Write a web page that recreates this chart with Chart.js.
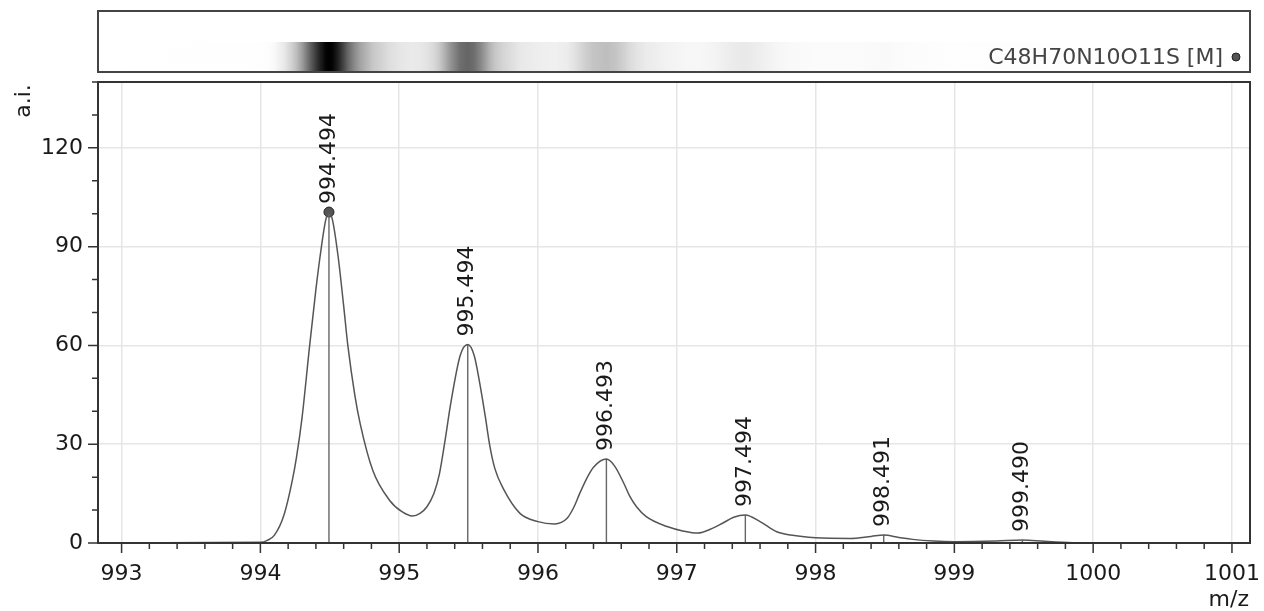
<!DOCTYPE html>
<html>
<head>
<meta charset="utf-8">
<script src="https://cdn.jsdelivr.net/npm/chart.js@4.4.1/dist/chart.umd.min.js"></script>
<style>
  html, body { margin: 0; padding: 0; background: #fff; }
  #wrap { width: 1264px; height: 611px; }
</style>
</head>
<body>
<div id="wrap"><canvas id="spectrum" width="1264" height="611"></canvas></div>
<script>
// profile trace (m/z, a.i.)
const profileMz = [
  992.83, 994.00, 994.05, 994.10, 994.17, 994.23, 994.26, 994.30, 994.355, 994.40,
  994.43, 994.47, 994.494, 994.52, 994.56, 994.60, 994.63, 994.68, 994.72, 994.81,
  994.93, 995.02, 995.095, 995.15, 995.20, 995.25, 995.29, 995.33, 995.37, 995.44,
  995.494, 995.54, 995.58, 995.62, 995.653, 995.69, 995.75, 995.87, 996.00, 996.12,
  996.21, 996.26, 996.30, 996.35, 996.40, 996.493, 996.55, 996.62, 996.66, 996.71,
  996.78, 996.93, 997.05, 997.15, 997.26, 997.33, 997.41, 997.494, 997.60, 997.72,
  997.82, 998.00, 998.25, 998.40, 998.491, 998.60, 998.70, 998.85, 999.00, 999.30,
  999.49, 999.65, 999.85, 1000.0, 1001.13
];
const profileInt = [
  0, 0.2, 0.8, 2.3, 8.5, 19, 26, 38, 60, 77,
  87, 98, 100.5, 98, 87, 72, 60, 45, 36, 22,
  13, 9.5, 8.2, 9, 11, 15, 21, 31, 42, 57,
  60.3, 57, 48.6, 38.5, 29.5, 22.5, 16.5, 9, 6.5, 5.8,
  7.5, 11, 15, 19.5, 23, 25.5, 23.5, 18, 14.3, 11,
  8, 5, 3.6, 3, 4.5, 6, 7.8, 8.5, 6.5, 3.4,
  2.4, 1.6, 1.4, 2, 2.4, 1.7, 1.1, 0.6, 0.4, 0.6,
  0.9, 0.5, 0.1, 0, 0
];

// centroid peaks
const peakMz = [994.494, 995.494, 996.493, 997.494, 998.491, 999.490];
const peakInt = [100.5, 60.3, 25.5, 8.5, 2.4, 0.9];
const peakLabels = ["994.494", "995.494", "996.493", "997.494", "998.491", "999.490"];

// axes
const xMajor = [993, 994, 995, 996, 997, 998, 999, 1000, 1001];
const yMajor = [0, 30, 60, 90, 120];
const xRange = [992.83, 1001.13];
const yRange = [0, 140];
const formula = "C48H70N10O11S [M]";

const FONT = "22px 'DejaVu Sans'";
const isMajor = (v, list) => list.some(m => Math.abs(m - v) < 1e-6);

// minor tick positions: 5 per unit on x, every 10 on y
const xTickVals = [];
for (let i = 0; i <= 40; i++) xTickVals.push(Math.round((993 + i * 0.2) * 10) / 10);
const yTickVals = [];
for (let v = yRange[0]; v <= yRange[1]; v += 10) yTickVals.push(v);

const spectrumDecor = {
  id: "spectrumDecor",
  afterDatasetsDraw(chart) {
    const { ctx, chartArea: a, scales: { x, y } } = chart;
    ctx.save();

    // tick marks (major long, minor short)
    ctx.strokeStyle = "#333";
    ctx.lineWidth = 1.5;
    ctx.beginPath();
    xTickVals.forEach(v => {
      const px = x.getPixelForValue(v);
      const len = isMajor(v, xMajor) ? 10 : 6;
      ctx.moveTo(px, a.bottom);
      ctx.lineTo(px, a.bottom + len);
    });
    yTickVals.forEach(v => {
      const py = y.getPixelForValue(v);
      const len = isMajor(v, yMajor) ? 10 : 6;
      ctx.moveTo(a.left, py);
      ctx.lineTo(a.left - len, py);
    });
    ctx.stroke();

    // plot frame
    ctx.lineWidth = 2;
    ctx.strokeRect(a.left, a.top, a.right - a.left, a.bottom - a.top);

    // peak labels
    ctx.font = FONT;
    ctx.fillStyle = "#1a1a1a";
    peakMz.forEach((m, i) => {
      const px = x.getPixelForValue(m);
      const py = y.getPixelForValue(peakInt[i]);
      ctx.save();
      ctx.translate(px, py - 8);
      ctx.rotate(-Math.PI / 2);
      ctx.textAlign = "left";
      ctx.textBaseline = "middle";
      ctx.fillText(peakLabels[i], 0, 0);
      ctx.restore();
    });

    // top strip: intensity as grey level
    const boxTop = 11, boxBottom = 72, bandTop = 42;
    const w = a.right - a.left;
    const grad = ctx.createLinearGradient(a.left, 0, a.right, 0);
    profileMz.forEach((m, i) => {
      const f = (x.getPixelForValue(m) - a.left) / w;
      if (f < 0 || f > 1) return;
      const g = Math.round(255 * (1 - Math.min(profileInt[i], 100) / 100));
      grad.addColorStop(f, `rgb(${g},${g},${g})`);
    });
    ctx.fillStyle = grad;
    ctx.fillRect(a.left, bandTop, w, boxBottom - bandTop);
    ctx.strokeStyle = "#444";
    ctx.lineWidth = 2;
    ctx.strokeRect(a.left, boxTop, w, boxBottom - boxTop);

    // formula + marker dot
    ctx.font = FONT;
    ctx.fillStyle = "#444";
    ctx.textAlign = "right";
    ctx.textBaseline = "alphabetic";
    ctx.fillText(formula, a.right - 27, 64);
    ctx.beginPath();
    ctx.arc(a.right - 14, 57, 4, 0, Math.PI * 2);
    ctx.fillStyle = "#555";
    ctx.fill();
    ctx.strokeStyle = "#222";
    ctx.lineWidth = 1;
    ctx.stroke();

    // axis titles
    ctx.fillStyle = "#1a1a1a";
    ctx.font = FONT;
    ctx.save();
    ctx.translate(30, 101);
    ctx.rotate(-Math.PI / 2);
    ctx.textAlign = "center";
    ctx.textBaseline = "alphabetic";
    ctx.fillText("a.i.", 0, 0);
    ctx.restore();
    ctx.textAlign = "right";
    ctx.fillText("m/z", a.right - 1, 606);

    ctx.restore();
  }
};

const profileData = profileMz.map((m, i) => ({ x: m, y: profileInt[i] }));

const stickSets = peakMz.map((m, i) => ({
  data: [{ x: m, y: 0 }, { x: m, y: peakInt[i] }],
  showLine: true,
  borderColor: "#666",
  borderWidth: 1.4,
  pointRadius: 0,
}));

const config = {
  type: "scatter",
  data: {
    datasets: [
      {
        data: profileData,
        showLine: true,
        borderColor: "#555",
        borderWidth: 1.5,
        pointRadius: 0,
        cubicInterpolationMode: "monotone",
      },
      ...stickSets,
      {
        data: [{ x: peakMz[0], y: peakInt[0] }],
        pointRadius: 5,
        backgroundColor: "#555",
        borderColor: "#222",
        borderWidth: 1,
      },
    ],
  },
  options: {
    responsive: false,
    animation: false,
    layout: { padding: { top: 82, right: 14, left: 0, bottom: 0 } },
    plugins: {
      legend: { display: false },
      tooltip: { enabled: false },
    },
    scales: {
      x: {
        type: "linear",
        min: xRange[0],
        max: xRange[1],
        afterBuildTicks: axis => { axis.ticks = xTickVals.map(v => ({ value: v })); },
        afterFit: axis => {
          axis.height = 68;
          axis.paddingLeft = 0;
          axis.paddingRight = 0;
        },
        border: { display: false },
        grid: {
          drawTicks: false,
          lineWidth: 1.5,
          color: c => (isMajor(c.tick.value, xMajor) ? "#e6e6e6" : "rgba(0,0,0,0)"),
        },
        ticks: {
          autoSkip: false,
          maxRotation: 0,
          padding: 18,
          color: "#1a1a1a",
          font: { family: "DejaVu Sans", size: 22 },
          callback: v => (isMajor(v, xMajor) ? String(Math.round(v)) : ""),
        },
      },
      y: {
        min: yRange[0],
        max: yRange[1],
        afterBuildTicks: axis => { axis.ticks = yTickVals.map(v => ({ value: v })); },
        afterFit: axis => {
          axis.width = 98;
          axis.paddingTop = 0;
          axis.paddingBottom = 0;
        },
        border: { display: false },
        grid: {
          drawTicks: false,
          lineWidth: 1.5,
          color: c => (isMajor(c.tick.value, yMajor) ? "#e6e6e6" : "rgba(0,0,0,0)"),
        },
        ticks: {
          autoSkip: false,
          padding: 15,
          color: "#1a1a1a",
          font: { family: "DejaVu Sans", size: 22 },
          callback: v => (isMajor(v, yMajor) ? String(v) : ""),
        },
      },
    },
  },
  plugins: [spectrumDecor],
};

const spectrumChart = new Chart(document.getElementById("spectrum"), config);
</script>
</body>
</html>
